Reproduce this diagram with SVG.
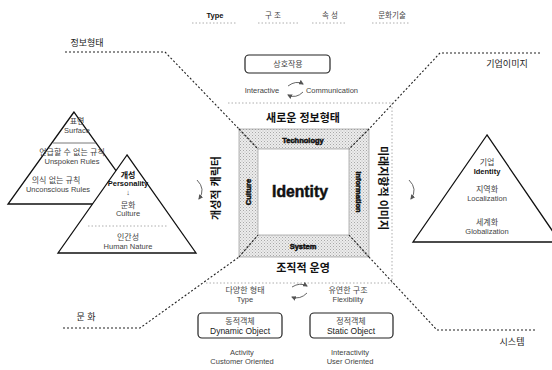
<svg xmlns="http://www.w3.org/2000/svg" width="552" height="370" viewBox="0 0 552 370">
<style>
text{font-family:"Liberation Sans","Noto Sans CJK KR",sans-serif;fill:#222;text-anchor:middle}
.sm{font-size:7.5px;fill:#444}
.kr{font-size:8px;fill:#444}
.lb{font-size:11px;font-weight:bold;fill:#111}
.sec{font-size:9px;fill:#222}
.bd{font-weight:bold;fill:#111}
.hv{font-weight:bold;fill:#111;stroke:#111;stroke-width:0.5}
.dot{fill:none;stroke:#222;stroke-width:1.1;stroke-dasharray:2 2}
.fdot{fill:none;stroke:#999;stroke-width:0.8;stroke-dasharray:1.5 2}
.tri{fill:#fff;stroke:#111;stroke-width:1.3}
.band{fill:url(#st);stroke:#888;stroke-width:0.6}
.box{fill:#fff;stroke:#222;stroke-width:1.2}
.arc{fill:none;stroke:#555;stroke-width:0.9}
</style>
<defs>
<pattern id="st" width="3" height="3" patternUnits="userSpaceOnUse">
<rect width="3" height="3" fill="#ececec"/>
<rect x="0" y="0" width="1" height="1" fill="#a8a8a8"/>
<rect x="1.5" y="1.5" width="1" height="1" fill="#b8b8b8"/>
</pattern>
<marker id="ah" markerWidth="5" markerHeight="5" refX="4" refY="2.5" orient="auto" markerUnits="userSpaceOnUse">
<path d="M0,0 L5,2.5 L0,5 z" fill="#555"/>
</marker>
</defs>

<g id="legend">
<text class="sm bd" x="215" y="18">Type</text>
<text class="sm" x="273" y="18">구 조</text>
<text class="sm" x="330" y="18">속 성</text>
<text class="sm" x="392" y="18">문화기술</text>
<path class="fdot" d="M192,23 H237 M258,23 H298 M312,23 H345 M372,23 H410"/>
</g>

<g id="connectors">
<path class="dot" d="M65,52 H165 L239,129"/>
<path class="dot" d="M540,53 H440 L369,129"/>
<path class="dot" d="M63,328 H140 L239,257"/>
<path class="dot" d="M535,330 H437 L369,257"/>
<path class="fdot" d="M228,103 H392 V283 H205"/>
<path class="arc" d="M288,86 Q296,80 303,84" marker-end="url(#ah)"/>
<path class="arc" d="M303,92 Q296,99 288,95" marker-end="url(#ah)"/>
<path class="arc" d="M292,287 Q300,282 307,286" marker-end="url(#ah)"/>
<path class="arc" d="M307,293 Q300,300 292,297" marker-end="url(#ah)"/>
<path class="arc" d="M197,180 Q206,189 199,199" marker-end="url(#ah)"/>
<path class="arc" d="M409,180 Q418,189 411,199" marker-end="url(#ah)"/>
</g>

<g id="label-info"><text class="sec" x="87" y="46">정보형태</text></g>
<g id="label-image"><text class="sec" x="507" y="67">기업이미지</text></g>
<g id="label-culture"><text class="sec" x="86" y="320">문 화</text></g>
<g id="label-system"><text class="sec" x="512" y="345">시스템</text></g>

<g id="top-box">
<rect class="box" x="245" y="55" width="85" height="18" rx="4"/>
<text class="kr" x="288" y="67">상호작용</text>
<text class="sm" x="262" y="93">Interactive</text>
<text class="sm" x="332" y="93">Communication</text>
</g>

<g id="identity-frame">
<polygon class="band" points="239,129 369,129 349,149 258,149"/>
<polygon class="band" points="369,129 369,257 349,235 349,149"/>
<polygon class="band" points="239,257 369,257 349,235 258,235"/>
<polygon class="band" points="239,129 258,149 258,235 239,257"/>
<path class="dot" d="M239,129 L258,149 M369,129 L349,149 M239,257 L258,235 M369,257 L349,235"/>
<text class="hv" x="303" y="143" font-size="7.5">Technology</text>
<text class="hv" x="303" y="249" font-size="7.5">System</text>
<text class="hv" font-size="7.5" transform="translate(251,192) rotate(-90)">Culture</text>
<text class="hv" font-size="7.5" transform="translate(356,192) rotate(90)">Information</text>
<text class="hv" x="300" y="197" font-size="17" textLength="56" lengthAdjust="spacingAndGlyphs">Identity</text>
</g>

<g id="outer-labels">
<text class="lb" x="303" y="122">새로운 정보형태</text>
<text class="lb" x="303" y="272">조직적 운영</text>
<text class="lb" transform="translate(220,188) rotate(-90)">개성적 캐릭터</text>
<text class="lb" transform="translate(379,188) rotate(90)">미래지향적 이미지</text>
</g>

<g id="triangle-rules">
<polygon class="tri" points="74,112 8,204 140,204"/>
<line x1="53" y1="143" x2="96" y2="143" stroke="#555" stroke-width="0.8"/>
<text class="kr" x="77" y="124">표면</text>
<text class="sm" x="77" y="133">Surface</text>
<text class="kr" x="72" y="155">언급할 수 없는 규칙</text>
<text class="sm" x="72" y="164">Unspoken Rules</text>
<text class="kr" x="56" y="183">의식 없는 규칙</text>
<text class="sm" x="58" y="192">Unconscious Rules</text>
</g>

<g id="triangle-personality">
<polygon class="tri" points="127,155 58,253 196,253"/>
<text class="kr bd" x="128" y="178">개성</text>
<text class="sm bd" x="128" y="186">Personality</text>
<text class="sm" x="128" y="195">↓</text>
<text class="kr" x="128" y="208">문화</text>
<text class="sm" x="128" y="216">Culture</text>
<line class="fdot" x1="88" y1="226" x2="168" y2="226"/>
<text class="kr" x="128" y="240">인간성</text>
<text class="sm" x="128" y="249">Human Nature</text>
</g>

<g id="triangle-identity">
<polygon class="tri" points="487,135 413,242 560,242"/>
<text class="kr" x="487" y="165">기업</text>
<text class="sm bd" x="487" y="174">Identity</text>
<text class="kr" x="487" y="192">지역화</text>
<text class="sm" x="487" y="201">Localization</text>
<text class="kr" x="487" y="225">세계화</text>
<text class="sm" x="487" y="234">Globalization</text>
</g>

<g id="type-labels">
<text class="kr" x="245" y="293">다양한 형태</text>
<text class="sm" x="245" y="302">Type</text>
<text class="kr" x="348" y="293">유연한 구조</text>
<text class="sm" x="348" y="302">Flexibility</text>
</g>

<g id="dynamic-object">
<rect class="box" x="198" y="313" width="84" height="25" rx="4"/>
<text class="kr" x="240" y="324">동적객체</text>
<text x="240" y="334" font-size="8.5" fill="#222">Dynamic Object</text>
<text class="sm" x="242" y="355">Activity</text>
<text class="sm" x="242" y="364">Customer Oriented</text>
</g>

<g id="static-object">
<rect class="box" x="310" y="313" width="83" height="25" rx="4"/>
<text class="kr" x="351" y="324">정적객체</text>
<text x="351" y="334" font-size="8.5" fill="#222">Static Object</text>
<text class="sm" x="350" y="355">Interactivity</text>
<text class="sm" x="350" y="364">User Oriented</text>
</g>
</svg>
